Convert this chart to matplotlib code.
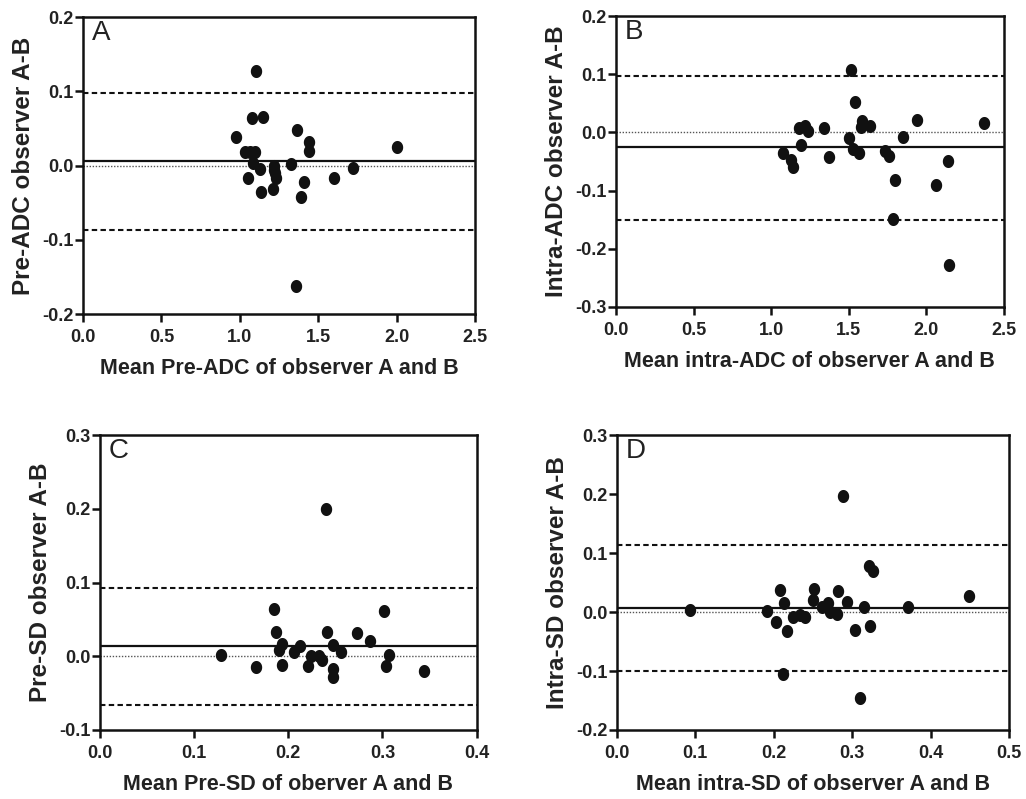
import matplotlib
matplotlib.use("Agg")
import matplotlib.pyplot as plt
import numpy as np
from matplotlib.path import Path

plt.rcParams['font.family'] = ['Liberation Sans', 'DejaVu Sans']

# Panel A: pre-ADC
a_x = [1.106, 1.078, 1.151, 0.977, 1.367, 1.444, 1.444, 2.00, 1.032, 1.064, 1.096,
       1.085, 1.127, 1.219, 1.220, 1.227, 1.229, 1.327, 1.053, 1.138, 1.210, 1.410,
       1.390, 1.600, 1.724, 1.361]
a_y = [0.127, 0.0635, 0.065, 0.039, 0.048, 0.0315, 0.019, 0.025, 0.018, 0.018, 0.018,
       0.003, -0.0045, 0.0, -0.006, -0.010, -0.017, 0.002, -0.017, -0.036, -0.032, -0.022,
       -0.043, -0.017, -0.004, -0.162]
a_lines = (0.006, 0.098, -0.0865)

# Panel B: intra-ADC
b_x = [1.513, 1.543, 1.584, 1.581, 1.637, 1.942, 2.373, 1.178, 1.217, 1.240, 1.339,
       1.191, 1.504, 1.077, 1.129, 1.144, 1.373, 1.528, 1.569, 1.736, 1.762, 1.850,
       1.798, 2.139, 2.064, 1.788, 2.144]
b_y = [0.107, 0.053, 0.0195, 0.009, 0.0115, 0.021, 0.0167, 0.0075, 0.0115, 0.002, 0.0075,
       -0.021, -0.0098, -0.0356, -0.047, -0.059, -0.042, -0.029, -0.036, -0.032, -0.040, -0.0075,
       -0.0816, -0.049, -0.0896, -0.148, -0.228]
b_lines = (-0.0253, 0.0976, -0.151)

# Panel C: pre-SD
c_x = [0.240, 0.185, 0.302, 0.187, 0.241, 0.273, 0.287, 0.193, 0.212, 0.248, 0.190,
       0.206, 0.256, 0.224, 0.233, 0.236, 0.307, 0.128, 0.166, 0.193, 0.221, 0.247,
       0.247, 0.304, 0.344]
c_y = [0.200, 0.064, 0.062, 0.033, 0.033, 0.031, 0.021, 0.017, 0.0136, 0.0155, 0.008,
       0.0055, 0.0055, 0.001, 0.001, -0.0045, 0.002, 0.002, -0.014, -0.012, -0.0136, -0.017,
       -0.028, -0.0136, -0.020]
c_lines = (0.0136, 0.0927, -0.0668)

# Panel D: intra-SD
d_x = [0.288, 0.322, 0.326, 0.093, 0.2075, 0.251, 0.282, 0.449, 0.2135, 0.2496, 0.2687,
       0.2937, 0.262, 0.315, 0.371, 0.192, 0.2716, 0.280, 0.234, 0.2245, 0.240, 0.203,
       0.217, 0.303, 0.3226, 0.2114, 0.310]
d_y = [0.196, 0.0775, 0.070, 0.004, 0.037, 0.039, 0.036, 0.028, 0.0147, 0.0198, 0.0153,
       0.0164, 0.008, 0.009, 0.0085, 0.001, 0.0, -0.004, -0.0057, -0.009, -0.009, -0.0164,
       -0.0317, -0.0305, -0.0238, -0.1058, -0.145]
d_lines = (0.0068, 0.1137, -0.0995)

panels = [
    dict(rect=[0.0809, 0.607, 0.382, 0.3717], x=a_x, y=a_y, lines=a_lines, letter='A',
         xlim=(0, 2.5), xticks=[0, 0.5, 1.0, 1.5, 2.0, 2.5], ylim=(-0.2, 0.2),
         yticks=[-0.2, -0.1, 0.0, 0.1, 0.2],
         xlabel='Mean Pre-ADC of observer A and B', ylabel='Pre-ADC observer A-B'),
    dict(rect=[0.6004, 0.6158, 0.378, 0.364], x=b_x, y=b_y, lines=b_lines, letter='B',
         xlim=(0, 2.5), xticks=[0, 0.5, 1.0, 1.5, 2.0, 2.5], ylim=(-0.3, 0.2),
         yticks=[-0.3, -0.2, -0.1, 0.0, 0.1, 0.2],
         xlabel='Mean intra-ADC of observer A and B', ylabel='Intra-ADC observer A-B'),
    dict(rect=[0.0975, 0.0864, 0.367, 0.369], x=c_x, y=c_y, lines=c_lines, letter='C',
         xlim=(0, 0.4), xticks=[0, 0.1, 0.2, 0.3, 0.4], ylim=(-0.1, 0.3),
         yticks=[-0.1, 0.0, 0.1, 0.2, 0.3],
         xlabel='Mean Pre-SD of oberver A and B', ylabel='Pre-SD observer A-B'),
    dict(rect=[0.601, 0.0864, 0.3827, 0.369], x=d_x, y=d_y, lines=d_lines, letter='D',
         xlim=(0, 0.5), xticks=[0, 0.1, 0.2, 0.3, 0.4, 0.5], ylim=(-0.2, 0.3),
         yticks=[-0.2, -0.1, 0.0, 0.1, 0.2, 0.3],
         xlabel='Mean intra-SD of observer A and B', ylabel='Intra-SD observer A-B'),
]

# slightly tall dot, like the scanned figure
t = np.linspace(0, 2 * np.pi, 60)
dot = Path(np.column_stack([np.cos(t) * 0.87, np.sin(t)]), closed=True)

fig = plt.figure(figsize=(10.26, 7.99), dpi=100)

for p in panels:
    ax = fig.add_axes(p['rect'])
    mean, upper, lower = p['lines']
    ax.axhline(0, color='#555555', lw=1.0, ls=(0, (1, 1.2)), zorder=1)
    ax.axhline(mean, color='#111111', lw=1.6, zorder=2)
    ax.axhline(upper, color='#111111', lw=1.5, ls=(0, (2.6, 1.6)), zorder=2)
    ax.axhline(lower, color='#111111', lw=1.5, ls=(0, (2.6, 1.6)), zorder=2)
    ax.plot(p['x'], p['y'], ls='none', marker=dot, color='#111111', ms=9.4,
            mec='#111111', mew=0, zorder=3)
    ax.set_xlim(*p['xlim'])
    ax.set_ylim(*p['ylim'])
    ax.set_xticks(p['xticks'])
    ax.set_yticks(p['yticks'])
    ax.set_xticklabels(['%.1f' % v for v in p['xticks']])
    ax.set_yticklabels(['%.1f' % v for v in p['yticks']])
    for s in ax.spines.values():
        s.set_linewidth(1.8)
        s.set_color('#111111')
    ax.tick_params(direction='out', length=6, width=1.8, labelsize=13, color='#111111')
    ax.tick_params(axis='x', pad=4.5)
    ax.tick_params(axis='y', pad=0.8)
    for lab in ax.get_xticklabels() + ax.get_yticklabels():
        lab.set_fontweight('bold')
        lab.set_color('#222222')
    ax.set_xlabel(p['xlabel'], fontsize=15.5, fontweight='bold', color='#222222', labelpad=9)
    ax.set_ylabel(p['ylabel'], fontsize=17.5, fontweight='bold', color='#222222', labelpad=5)
    ax.text(0.023, 0.99, p['letter'], transform=ax.transAxes, ha='left', va='top',
            fontsize=20, color='#222222')

fig.savefig('out.png', dpi=100)
